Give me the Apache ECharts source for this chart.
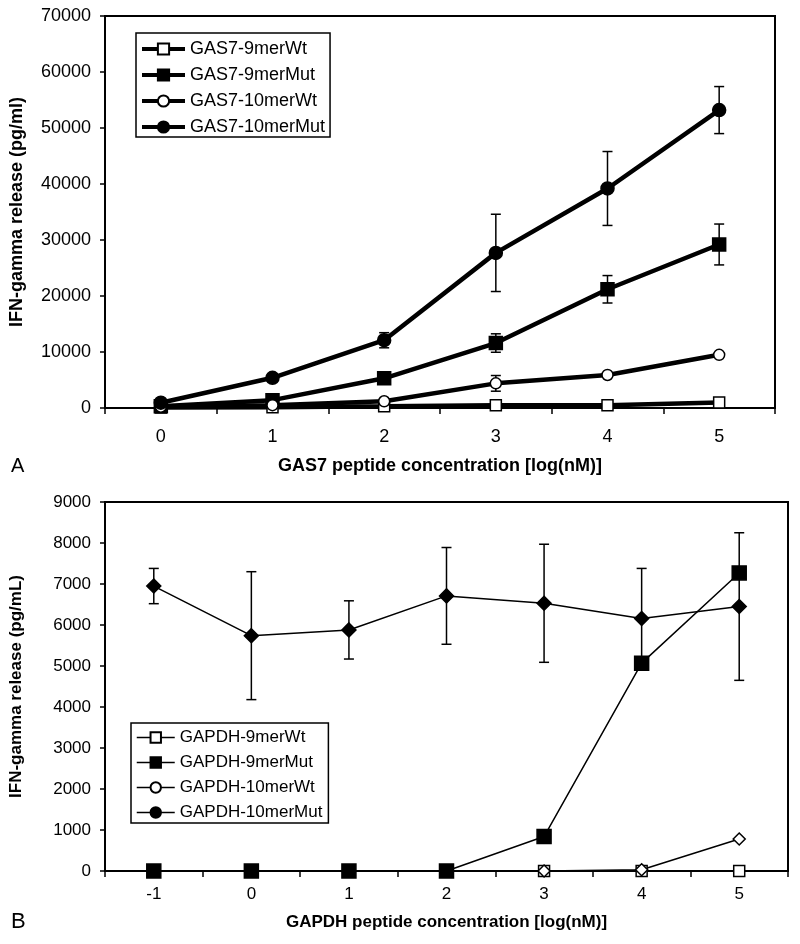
<!DOCTYPE html>
<html>
<head>
<meta charset="utf-8">
<script src="https://cdn.jsdelivr.net/npm/echarts@6/dist/echarts.min.js"></script>
<style>
  html, body { margin: 0; padding: 0; background: #fff; }
  #chart { width: 800px; height: 944px; }
</style>
</head>
<body>
<div id="chart"></div>
<script>
// panel A - GAS7
var gasDoses = ['0', '1', '2', '3', '4', '5']
var gas9Wt = [100, 150, 300, 500, 500, 1000]
var gas9Mut = [300, 1400, 5300, 11600, 21200, 29200]
var gas10Wt = [230, 500, 1200, 4400, 5900, 9500]
var gas10Mut = [950, 5400, 12100, 27700, 39200, 53200]
var gas9MutSd = [0, 300, 500, 1650, 2450, 3650]
var gas10WtSd = [0, 0, 300, 1400, 300, 300]
var gas10MutSd = [300, 400, 1350, 6900, 6600, 4200]

// panel B - GAPDH
var gapdhDoses = ['-1', '0', '1', '2', '3', '4', '5']
var gapdh9Wt = [null, null, null, null, 0, 0, 0]
var gapdh9Mut = [0, 0, 0, 0, 840, 5070, 7270]
var gapdh10Wt = [null, null, null, null, 0, 30, 780]
var gapdh10Mut = [6950, 5740, 5880, 6710, 6530, 6160, 6450]
var gapdh10MutSd = [430, 1560, 710, 1180, 1440, 1220, 1800]

var FONT = '"Liberation Sans", Arial, sans-serif'

function errData(values, sd) {
  var out = []
  values.forEach(function(v, i) {
    if (v != null && sd[i] > 0) out.push([i, v - sd[i], v + sd[i]])
  })
  return out
}

function errSeries(idx, data, cap, width) {
  return {
    type: 'custom',
    xAxisIndex: idx,
    yAxisIndex: idx,
    z: 1,
    silent: true,
    encode: {x: 0, y: [1, 2]},
    data: data,
    renderItem: function(params, api) {
      var x = api.value(0)
      var lo = api.coord([x, api.value(1)])
      var hi = api.coord([x, api.value(2)])
      var st = {stroke: '#000', lineWidth: width}
      return {
        type: 'group',
        children: [
          {type: 'line', shape: {x1: hi[0], y1: hi[1], x2: lo[0], y2: lo[1]}, style: st},
          {type: 'line', shape: {x1: hi[0] - cap, y1: hi[1], x2: hi[0] + cap, y2: hi[1]}, style: st},
          {type: 'line', shape: {x1: lo[0] - cap, y1: lo[1], x2: lo[0] + cap, y2: lo[1]}, style: st}
        ]
      }
    }
  }
}

function lineSeries(idx, name, values, symbol, size, filled, width, itemSymbol) {
  return {
    type: 'line',
    name: name,
    xAxisIndex: idx,
    yAxisIndex: idx,
    z: 2,
    symbol: symbol,
    symbolSize: size,
    showAllSymbol: true,
    connectNulls: false,
    data: values.map(function(v) {
      if (v == null) return '-'
      return itemSymbol ? {value: v, symbol: itemSymbol} : v
    }),
    lineStyle: {color: '#000', width: width},
    itemStyle: {
      color: filled ? '#000' : '#fff',
      borderColor: '#000',
      borderWidth: 1.5
    }
  }
}

function yAxis(idx, max, interval, name, fs, nameFs, gap) {
  return {
    type: 'value',
    gridIndex: idx,
    min: 0,
    max: max,
    interval: interval,
    name: name,
    nameLocation: 'middle',
    nameGap: gap,
    nameTextStyle: {fontFamily: FONT, fontWeight: 'bold', fontSize: nameFs, color: '#000'},
    splitLine: {show: false},
    axisLine: {show: true, lineStyle: {color: '#000', width: 2}},
    axisTick: {show: true, length: 5, lineStyle: {color: '#000', width: 1.5}},
    axisLabel: {
      fontFamily: FONT, fontSize: fs, color: '#000', margin: 14,
      formatter: function(v) { return String(v) }
    }
  }
}

function xAxis(idx, cats, name, fs, nameFs, gap, margin) {
  return {
    type: 'category',
    gridIndex: idx,
    data: cats,
    boundaryGap: true,
    name: name,
    nameLocation: 'middle',
    nameGap: gap,
    nameTextStyle: {fontFamily: FONT, fontWeight: 'bold', fontSize: nameFs, color: '#000'},
    axisLine: {show: true, lineStyle: {color: '#000', width: 2}},
    axisTick: {show: true, length: 6, alignWithLabel: false, lineStyle: {color: '#000', width: 1.5}},
    axisLabel: {fontFamily: FONT, fontSize: fs, color: '#000', margin: margin}
  }
}

function legend(names, left, top, padding, iconW, iconH, gap, fs, lw) {
  return {
    data: names,
    orient: 'vertical',
    left: left,
    top: top,
    padding: padding,
    itemGap: gap,
    itemWidth: iconW,
    itemHeight: iconH,
    backgroundColor: '#fff',
    borderColor: '#000',
    borderWidth: 1.5,
    borderRadius: 0,
    selectedMode: false,
    lineStyle: {width: lw},
    textStyle: {fontFamily: FONT, fontSize: fs, color: '#000'}
  }
}

var namesA = ['GAS7-9merWt', 'GAS7-9merMut', 'GAS7-10merWt', 'GAS7-10merMut']
var namesB = ['GAPDH-9merWt', 'GAPDH-9merMut', 'GAPDH-10merWt', 'GAPDH-10merMut']

var chart = echarts.init(document.getElementById('chart'))
chart.setOption({
  animation: false,
  backgroundColor: '#fff',
  grid: [
    {left: 105, top: 16, width: 670, height: 392, show: true, borderColor: '#000', borderWidth: 2},
    {left: 105, top: 502, width: 683, height: 369, show: true, borderColor: '#000', borderWidth: 2}
  ],
  xAxis: [
    xAxis(0, gasDoses, 'GAS7 peptide concentration [log(nM)]', 18, 18, 49, 20),
    xAxis(1, gapdhDoses, 'GAPDH peptide concentration [log(nM)]', 17, 17, 43, 15)
  ],
  yAxis: [
    yAxis(0, 70000, 10000, 'IFN-gamma release (pg/ml)', 18, 18, 79),
    yAxis(1, 9000, 1000, 'IFN-gamma release (pg/mL)', 17, 17, 80)
  ],
  legend: [
    legend(namesA, 136, 33, [7, 5, 1, 4], 43, 14, 8, 18, 4),
    legend(namesB, 131, 723, [6, 6, 2, 5], 38, 13, 8, 17, 1.5)
  ],
  graphic: [
    {type: 'text', x: 11, y: 466, style: {text: 'A', fontFamily: FONT, fontSize: 20, fill: '#000', verticalAlign: 'middle'}},
    {type: 'text', x: 11, y: 922, style: {text: 'B', fontFamily: FONT, fontSize: 22, fill: '#000', verticalAlign: 'middle'}}
  ],
  series: [
    errSeries(0, errData(gas9Mut, gas9MutSd), 5, 1.5),
    errSeries(0, errData(gas10Wt, gas10WtSd), 5, 1.5),
    errSeries(0, errData(gas10Mut, gas10MutSd), 5, 1.5),
    lineSeries(0, namesA[0], gas9Wt, 'rect', 11, false, 4.5),
    lineSeries(0, namesA[1], gas9Mut, 'rect', 13, true, 4.5),
    lineSeries(0, namesA[2], gas10Wt, 'circle', 11, false, 4.5),
    lineSeries(0, namesA[3], gas10Mut, 'circle', 13, true, 4.5),

    errSeries(1, errData(gapdh10Mut, gapdh10MutSd), 5, 1.5),
    lineSeries(1, namesB[0], gapdh9Wt, 'rect', 11, false, 1.5),
    lineSeries(1, namesB[1], gapdh9Mut, 'rect', 14, true, 1.5),
    lineSeries(1, namesB[2], gapdh10Wt, 'circle', 12, false, 1.5, 'diamond'),
    lineSeries(1, namesB[3], gapdh10Mut, 'circle', 14, true, 1.5, 'diamond')
  ]
})
</script>
</body>
</html>
